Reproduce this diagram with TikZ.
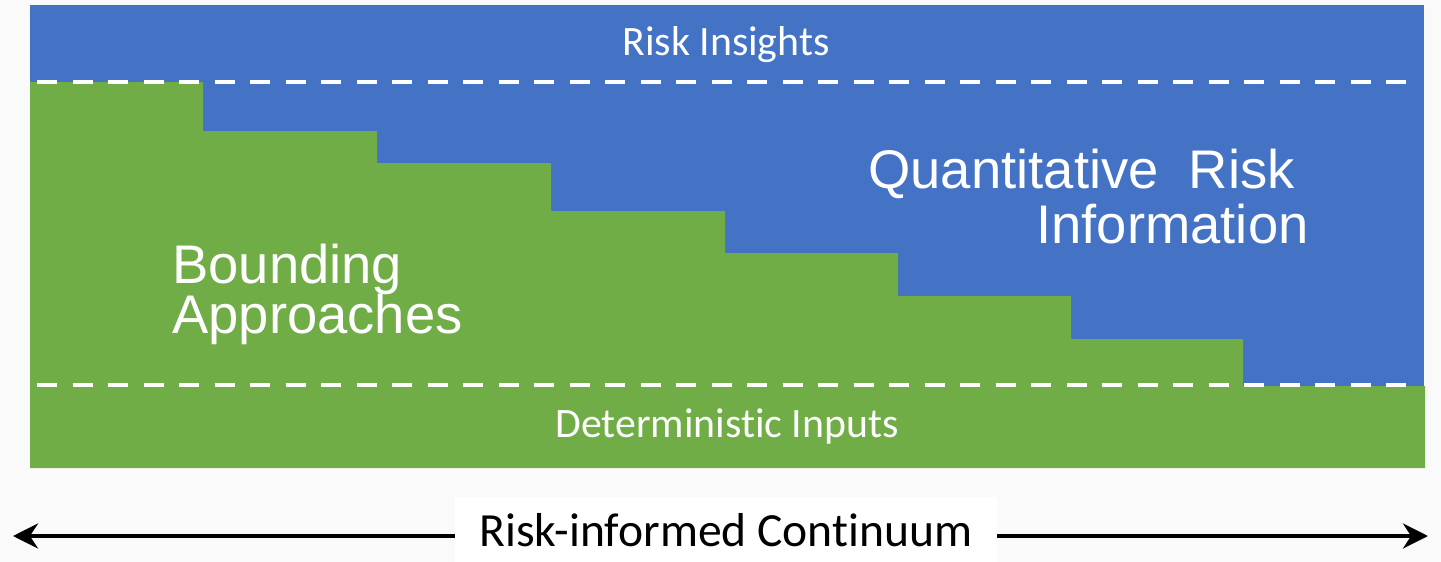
\documentclass[tikz,border=0pt]{standalone}
\usepackage{fontspec}
\setmainfont[RawFeature=-liga]{Carlito}
\newfontfamily\arialfont{Liberation Sans}
\usetikzlibrary{arrows.meta}

\definecolor{riskblue}{RGB}{68,114,196}
\definecolor{boundgreen}{RGB}{112,173,71}
\definecolor{pagebg}{RGB}{250,250,250}

\begin{document}
\begin{tikzpicture}[x=0.5pt,y=-0.5pt,
	bandtxt/.style={text=white,inner sep=0pt,font=\fontsize{20.9}{24}\selectfont},
	bigtxt/.style={text=white,inner sep=0pt,font=\arialfont\fontsize{27.2}{27.2}\selectfont},
	divider/.style={white,line width=2.2pt,dash pattern=on 10pt off 7.75pt},
	conn/.style={black,line width=2.2pt,-{Stealth[length=12.5pt,width=12.5pt]}}]
	\fill[pagebg] (0,0) rectangle (1441,562);
	\useasboundingbox (0,0) rectangle (1441,562);
	\fill[riskblue] (30,5) rectangle (1424,386);
	\fill[boundgreen] (30,82) -- (203,82) -- (203,131) -- (377,131) -- (377,163)
		-- (551,163) -- (551,211) -- (725,211) -- (725,253) -- (898,253)
		-- (898,296) -- (1071,296) -- (1071,339) -- (1243,339) -- (1243,386)
		-- (1425,386) -- (1425,468) -- (30,468) -- cycle;
	\draw[divider] (37,82) -- (1420,82);
	\draw[divider] (37,385) -- (1420,385);
	\node[bandtxt,anchor=base] (ins) at (726,55) {Risk Insights};
	\node[bandtxt,anchor=base] (det) at (727,437) {Deterministic Inputs};
	\node[bigtxt,anchor=base west] (quant) at (868,188) {Quantitative\ \ Risk};
	\node[bigtxt,anchor=base west] (info) at (1036,243) {Information};
	\node[bigtxt,anchor=base west] (bound) at (172,283) {Bounding};
	\node[bigtxt,anchor=base west] (appr) at (172,333) {Approaches};
	\node[fill=white,inner sep=0pt,minimum width=271pt,minimum height=33pt,
		font=\fontsize{23.8}{26}\selectfont] (cont) at (726,530) {Risk-informed Continuum};
	\coordinate (lft) at (13,536);
	\coordinate (rgt) at (1428,536);
	\draw[conn] (cont.west |- lft) -- (lft);
	\draw[conn] (cont.east |- rgt) -- (rgt);
\end{tikzpicture}
\end{document}
